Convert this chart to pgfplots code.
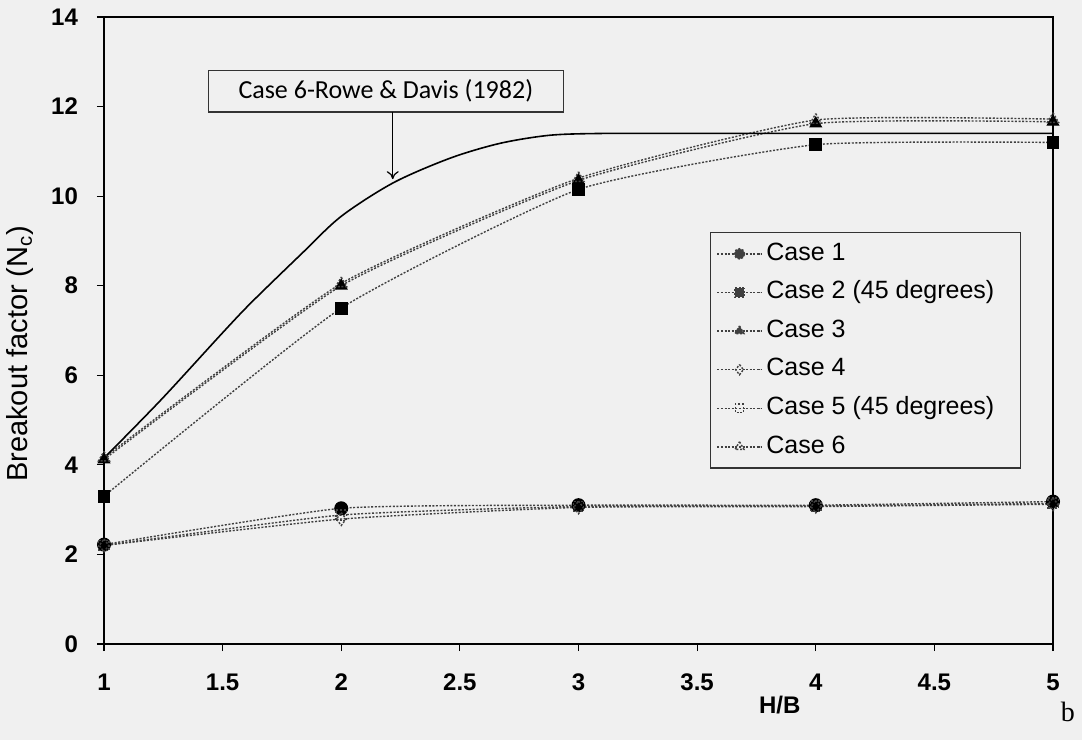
\documentclass[border=0pt]{standalone}
\usepackage{fontspec}
\setmainfont{Liberation Sans}
\newfontfamily\calibrifont{Carlito}
\newfontfamily\seriffont{Liberation Serif}
\usepackage{pgfplots}
\pgfplotsset{compat=1.18}
\usetikzlibrary{arrows.meta}

\pgfplotsset{
  casecurve/.style={smooth, tension=0.3, black!75, line width=0.7pt,
    dash pattern=on 1pt off 0.8pt,
    mark options={solid, black, line width=0.6pt}},
}

\begin{document}
\begin{tikzpicture}
\useasboundingbox (-52pt,-48pt) rectangle (489pt,322pt);
\fill[black!6] (-52pt,-48pt) rectangle (489pt,322pt);
\begin{axis}[
  at={(0pt,0pt)}, anchor=south west,
  scale only axis, width=474.5pt, height=313.5pt,
  xmin=1, xmax=5, ymin=0, ymax=14,
  xtick={1,1.5,...,5}, ytick={0,2,...,14},
  tick align=outside, xtick pos=bottom, ytick pos=left,
  major tick length=3.5pt,
  tick style={black, line width=0.6pt},
  axis line style={black, line width=0.8pt},
  ticklabel style={font=\bfseries\fontsize{12}{14}\selectfont},
  /pgf/number format/assume math mode=true,
  xticklabel style={yshift=-8pt},
  yticklabel style={xshift=-6pt},
  clip=false,
  legend cell align=left,
  legend style={at={(rel axis cs:0.6386,0.657)}, anchor=north west,
    draw=black!80, line width=0.6pt, fill=none,
    font=\fontsize{12.5}{14}\selectfont,
    inner sep=3pt, row sep=4.1pt,
    nodes={inner sep=2pt, text height=8.7pt, text depth=2.5pt}},
  legend image code/.code={\draw[mark repeat=2, mark phase=2, mark options={scale=0.8}]
    plot coordinates {(0cm,0cm) (0.39cm,0cm) (0.78cm,0cm)};},
]
% Case 1
\addplot[casecurve, mark=*, mark size=3.2pt] coordinates
  {(1,2.22) (2,3.03) (3,3.10) (4,3.10) (5,3.18)};
\addlegendentry{Case 1}
% Case 2 (45 degrees)
\addplot[casecurve, mark=square*, mark size=2.9pt] coordinates
  {(1,3.30) (2,7.50) (3,10.15) (4,11.15) (5,11.20)};
\addlegendentry{Case 2 (45 degrees)}
% Case 3
\addplot[casecurve, mark=triangle*, mark size=3.2pt] coordinates
  {(1,4.12) (2,8.00) (3,10.35) (4,11.62) (5,11.66)};
\addlegendentry{Case 3}
% Case 4
\addplot[casecurve, mark=diamond, mark size=3.2pt, mark options={fill=white}] coordinates
  {(1,2.20) (2,2.79) (3,3.05) (4,3.07) (5,3.12)};
\addlegendentry{Case 4}
% Case 5 (45 degrees)
\addplot[casecurve, mark=square, mark size=2.6pt, mark options={fill=white}] coordinates
  {(1,2.20) (2,2.88) (3,3.07) (4,3.08) (5,3.14)};
\addlegendentry{Case 5 (45 degrees)}
% Case 6
\addplot[casecurve, mark=triangle, mark size=3.2pt, mark options={fill=white}] coordinates
  {(1,4.16) (2,8.05) (3,10.40) (4,11.70) (5,11.72)};
\addlegendentry{\makebox[9.75em][l]{Case 6}}
% Case 6 - Rowe & Davis (1982), solid reference curve
\addplot[smooth, black, line width=0.8pt, forget plot] coordinates
  {(1,4.15) (1.24,5.45) (1.5,6.95) (1.62,7.62) (1.83,8.70) (2.0,9.55)
   (2.22,10.30) (2.46,10.85) (2.67,11.18) (2.88,11.36) (3.1,11.40)
   (3.4,11.40) (5,11.40)};

% annotation box with arrow
\node[draw=black!80, line width=0.6pt, minimum width=177.5pt, minimum height=20.8pt,
      inner sep=0pt, font=\calibrifont\fontsize{13}{15}\selectfont]
  (rd) at (axis cs:2.188,12.345) {Case 6-Rowe \& Davis (1982)};
\draw[-{To[length=4pt,width=6pt]}, black, line width=0.6pt]
  (axis cs:2.217,11.88) -- (axis cs:2.217,10.38);

% axis titles
\node[rotate=90, font=\fontsize{14.5}{16}\selectfont]
  at (axis description cs:-0.0885,0.463) {Breakout factor (N\textsubscript{c})};
\node[font=\bfseries\fontsize{12}{14}\selectfont]
  at (axis description cs:0.712,-0.0973) {H/B};
\node[font=\seriffont\fontsize{14}{16}\selectfont]
  at (axis description cs:1.0158,-0.108) {b};
\end{axis}
\end{tikzpicture}
\end{document}
